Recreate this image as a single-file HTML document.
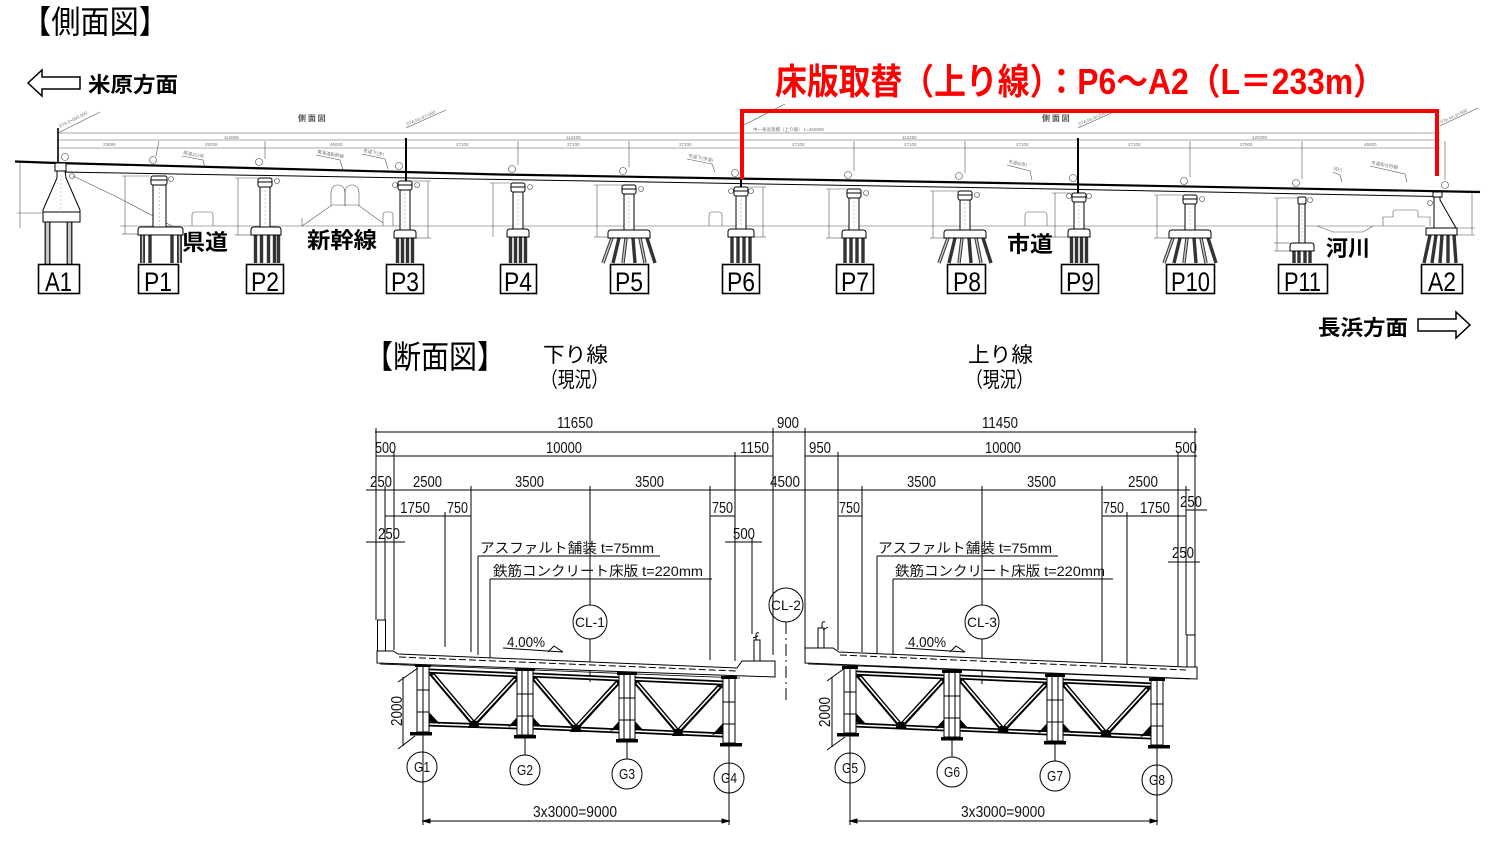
<!DOCTYPE html>
<html><head><meta charset="utf-8">
<style>
html,body{margin:0;padding:0;background:#fff;}
svg{display:block;}
text{font-family:"Liberation Sans","Noto Sans CJK JP",sans-serif;}
.j{font-family:"Noto Sans CJK JP",sans-serif;}
.d{font-size:16px;fill:#111;}
.tiny{font-size:4.5px;fill:#777;}
.k{stroke:#000;fill:none;stroke-width:1;}
.t{stroke:#555;fill:none;stroke-width:0.6;}
.w{fill:#fff;stroke:#000;stroke-width:1;}
.pile{stroke:#333;stroke-width:3.4;}
.pin{stroke:#c8c8c8;stroke-width:1.4;}
.cf{stroke:#000;stroke-width:5;fill:none;stroke-linecap:butt;}
.cfi{stroke:#fff;stroke-width:1.6;fill:none;}
</style></head><body>
<svg width="1500" height="843" viewBox="0 0 1500 843" xmlns="http://www.w3.org/2000/svg">
<rect width="1500" height="843" fill="#fff"/>

<!-- ===== Titles ===== -->
<text x="22" y="33" font-size="32" class="j" textLength="146" lengthAdjust="spacingAndGlyphs">【側面図】</text>
<polygon points="28,83 42,70 42,77 80,77 80,89 42,89 42,96" fill="#fff" stroke="#000" stroke-width="1.5"/>
<text x="88" y="92" font-size="21" font-weight="bold" class="j" textLength="90" lengthAdjust="spacingAndGlyphs">米原方面</text>
<text x="775" y="94" font-size="36" font-weight="bold" fill="#f00" textLength="610" lengthAdjust="spacingAndGlyphs">床版取替（上り線）：P6～A2（L＝233m）</text>

<!-- ===== Side view: top dimension lines ===== -->
<g class="t">
<line x1="57" y1="133" x2="1440" y2="133"/>
<line x1="57" y1="140" x2="1440" y2="140"/>
<line x1="57" y1="148" x2="1440" y2="148"/>
</g>
<text x="298" y="121" font-size="8" fill="#555" font-weight="bold" class="j">側 面 図</text>
<text x="1042" y="121" font-size="8" fill="#555" font-weight="bold" class="j">側 面 図</text>
<text x="753" y="131" class="tiny">中一条高架橋（上り線） L=460908</text>
<g class="tiny">
<text x="224" y="139">112858</text><text x="566" y="139">112408</text><text x="902" y="139">112250</text><text x="1252" y="139">120290</text>
<text x="103" y="146">23699</text><text x="205" y="146">25209</text><text x="330" y="146">46000</text><text x="456" y="146">27100</text>
<text x="567" y="146">27100</text><text x="679" y="146">27100</text><text x="792" y="146">27100</text><text x="904" y="146">27100</text>
<text x="1016" y="146">27100</text><text x="1128" y="146">27100</text><text x="1240" y="146">27900</text><text x="1364" y="146">45000</text>
</g>
<g class="t">
<line x1="58" y1="133" x2="100" y2="112"/><line x1="406" y1="128" x2="446" y2="110"/>
<line x1="1078" y1="128" x2="1118" y2="110"/><line x1="1440" y1="126" x2="1478" y2="108"/>
<line x1="742" y1="126" x2="785" y2="104"/>
</g>
<g class="tiny">
<text transform="translate(60,128) rotate(-27)">STA.0+000.000</text>
<text transform="translate(407,126) rotate(-24)">STA.No.97+000</text>
<text transform="translate(1079,126) rotate(-24)">STA.No.8+200</text>
<text transform="translate(1441,124) rotate(-25)">STA.No.9+500</text>
</g>

<g class="t">
<line x1="159" y1="141" x2="156" y2="156"/>
<line x1="265" y1="141" x2="265" y2="159"/>
<line x1="518" y1="141" x2="518" y2="165"/>
<line x1="629" y1="141" x2="629" y2="167"/>
<line x1="854" y1="141" x2="854" y2="171"/>
<line x1="965" y1="141" x2="965" y2="173"/>
<line x1="1190" y1="141" x2="1190" y2="177"/>
<line x1="1302" y1="141" x2="1302" y2="179"/>
<line x1="1445" y1="141" x2="1445" y2="180"/>
</g>
<line x1="58" y1="128" x2="58" y2="172" stroke="#000" stroke-width="1.6"/>
<line x1="406" y1="138" x2="406" y2="181" stroke="#000" stroke-width="2"/>
<line x1="1078" y1="138" x2="1078" y2="193" stroke="#000" stroke-width="2"/>
<line x1="741" y1="176" x2="741" y2="187" stroke="#000" stroke-width="2"/>

<g fill="#fff" stroke="#444" stroke-width="0.6">
<circle cx="65" cy="157" r="3.5"/>
<circle cx="153" cy="160" r="3.5"/><circle cx="259" cy="162" r="3.5"/><circle cx="399" cy="166" r="3.5"/>
<circle cx="512" cy="169" r="3.5"/><circle cx="623" cy="171" r="3.5"/><circle cx="735" cy="173" r="3.5"/>
<circle cx="848" cy="175" r="3.5"/><circle cx="959" cy="176" r="3.5"/><circle cx="1073" cy="178" r="3.5"/>
<circle cx="1184" cy="181" r="3.5"/><circle cx="1296" cy="183" r="3.5"/><circle cx="1445" cy="185" r="3.5"/>
<circle cx="171" cy="179" r="2.5"/><circle cx="277" cy="181" r="2.5"/><circle cx="395" cy="185" r="2.5"/><circle cx="417" cy="185" r="2.5"/>
<circle cx="530" cy="187" r="2.5"/><circle cx="641" cy="189" r="2.5"/><circle cx="731" cy="191" r="2.5"/><circle cx="751" cy="191" r="2.5"/>
<circle cx="866" cy="193" r="2.5"/><circle cx="977" cy="195" r="2.5"/><circle cx="1069" cy="196" r="2.5"/><circle cx="1089" cy="196" r="2.5"/>
<circle cx="1202" cy="199" r="2.5"/><circle cx="1310" cy="200" r="2.5"/><circle cx="1430" cy="203" r="2.5"/><circle cx="72" cy="176" r="2.5"/>
</g>

<g class="t">
<polyline points="182,156 203,160 205,168"/>
<polyline points="316,155 340,160 343,170"/>
<polyline points="362,154 385,159 388,169"/>
<polyline points="687,159 712,164 715,172"/>
<polyline points="1007,165 1030,171 1032,180"/>
<polyline points="1333,172 1340,175 1342,182"/>
<polyline points="1370,166 1405,174 1407,182"/>
</g>
<g class="tiny">
<text transform="translate(183,154) rotate(11)">県道312号</text>
<text transform="translate(317,153) rotate(11)">東海道新幹線</text>
<text transform="translate(363,152) rotate(11)">市道下(歩)</text>
<text transform="translate(688,157) rotate(11)">市道下(歩道)</text>
<text transform="translate(1008,163) rotate(11)">市道8(歩)</text>
<text transform="translate(1333,170) rotate(11)">河川</text>
<text transform="translate(1371,164) rotate(11)">市道和合町線</text>
</g>

<polyline points="15,161.5 57,163 500,174.5 1000,183 1480,192" fill="none" stroke="#000" stroke-width="2.2"/>
<polyline points="60,172 500,179.5 1000,188 1437,196.5" fill="none" stroke="#000" stroke-width="1"/>

<line x1="120" y1="226" x2="1425" y2="226" class="t"/>
<line x1="1456" y1="228" x2="1475" y2="228" class="t"/>
<polyline points="73,176 117,197 172,226" class="t" stroke-width="0.8"/>
<g class="t" stroke-width="0.8">
<path d="M192,226 V215 Q192,212 195,212 H210 Q213,212 213,215 V226"/>
<path d="M709,226 V215 Q709,212 712,212 H719 Q722,212 722,215 V226"/>
<path d="M1025,226 V215 Q1025,212 1028,212 H1044 Q1047,212 1047,215 V226"/>
<path d="M383,226 V215 Q383,212 386,212 H390 Q393,212 393,215 V226"/>
<polyline points="302,218 302,226 332,205 358,205 383,223"/>
<path d="M331,206 V194 Q331,185 338,185 Q345,185 345,194 V206"/>
<path d="M345,206 V194 Q345,185 352,185 Q359,185 359,194 V206"/>
<polyline points="1317,226 1333,232 1363,232 1373,226"/>
<path d="M1383,226 V217 H1393 V212 Q1393,210 1396,210 H1415 Q1418,210 1418,212 V217 H1430 V226"/>
</g>

<g class="t" stroke-width="0.5">
<line x1="20" y1="163" x2="20" y2="228"/><line x1="17" y1="213" x2="43" y2="213"/>
<line x1="125" y1="176" x2="125" y2="234"/><line x1="122" y1="176" x2="150" y2="176"/><line x1="122" y1="234" x2="138" y2="234"/>
<line x1="238" y1="178" x2="238" y2="235"/><line x1="235" y1="178" x2="258" y2="178"/><line x1="235" y1="235" x2="251" y2="235"/>
<line x1="428" y1="181" x2="428" y2="238"/><line x1="412" y1="181" x2="431" y2="181"/><line x1="416" y1="238" x2="431" y2="238"/>
<line x1="493" y1="183" x2="493" y2="237"/><line x1="490" y1="183" x2="511" y2="183"/>
<line x1="597" y1="185" x2="597" y2="237"/><line x1="594" y1="185" x2="622" y2="185"/><line x1="594" y1="237" x2="608" y2="237"/>
<line x1="763" y1="187" x2="763" y2="237"/><line x1="748" y1="187" x2="766" y2="187"/><line x1="754" y1="237" x2="766" y2="237"/>
<line x1="829" y1="189" x2="829" y2="238"/><line x1="826" y1="189" x2="847" y2="189"/><line x1="826" y1="238" x2="842" y2="238"/>
<line x1="933" y1="191" x2="933" y2="238"/><line x1="930" y1="191" x2="958" y2="191"/><line x1="930" y1="238" x2="944" y2="238"/>
<line x1="1055" y1="193" x2="1055" y2="237"/><line x1="1052" y1="193" x2="1072" y2="193"/><line x1="1052" y1="237" x2="1068" y2="237"/>
<line x1="1157" y1="195" x2="1157" y2="238"/><line x1="1154" y1="195" x2="1183" y2="195"/><line x1="1154" y1="238" x2="1169" y2="238"/>
<line x1="1277" y1="198" x2="1277" y2="251"/><line x1="1274" y1="198" x2="1298" y2="198"/><line x1="1274" y1="243" x2="1290" y2="243"/><line x1="1274" y1="251" x2="1290" y2="251"/>
<line x1="1472" y1="193" x2="1472" y2="235"/><line x1="1457" y1="235" x2="1475" y2="235"/>
</g>

<g class="pile">
<line x1="47.5" y1="222" x2="47.5" y2="264" stroke-width="6"/><line x1="69.5" y1="222" x2="69.5" y2="264" stroke-width="6"/>
<line x1="142.5" y1="235" x2="142.5" y2="263" stroke-width="5"/><line x1="150" y1="235" x2="150" y2="263"/><line x1="172" y1="235" x2="172" y2="263"/><line x1="179.5" y1="235" x2="179.5" y2="263" stroke-width="5"/>
<line x1="255.5" y1="235" x2="255.5" y2="263"/><line x1="261.5" y1="235" x2="261.5" y2="263"/><line x1="268.5" y1="235" x2="268.5" y2="263"/><line x1="274.5" y1="235" x2="274.5" y2="263"/><line x1="278.5" y1="235" x2="278.5" y2="263"/>
<line x1="397.5" y1="238" x2="397.5" y2="263"/><line x1="402.5" y1="238" x2="402.5" y2="263"/><line x1="407.5" y1="238" x2="407.5" y2="263"/><line x1="412.5" y1="238" x2="412.5" y2="263"/>
<line x1="510.5" y1="237" x2="510.5" y2="263"/><line x1="515.5" y1="237" x2="515.5" y2="263"/><line x1="520.5" y1="237" x2="520.5" y2="263"/><line x1="525.5" y1="237" x2="525.5" y2="263"/>
<line x1="612" y1="238" x2="603" y2="263"/><line x1="619" y1="238" x2="613" y2="263"/><line x1="626" y1="238" x2="623" y2="263"/><line x1="633" y1="238" x2="635" y2="263"/><line x1="640" y1="238" x2="645" y2="263"/><line x1="647" y1="238" x2="655" y2="263"/>
<line x1="732" y1="237" x2="732" y2="263"/><line x1="738" y1="237" x2="738" y2="263"/><line x1="744" y1="237" x2="744" y2="263"/><line x1="750" y1="237" x2="750" y2="263"/>
<line x1="845" y1="238" x2="845" y2="263"/><line x1="851" y1="238" x2="851" y2="263"/><line x1="857" y1="238" x2="857" y2="263"/><line x1="863" y1="238" x2="863" y2="263"/>
<line x1="948" y1="238" x2="939" y2="263"/><line x1="955" y1="238" x2="949" y2="263"/><line x1="962" y1="238" x2="959" y2="263"/><line x1="969" y1="238" x2="971" y2="263"/><line x1="976" y1="238" x2="981" y2="263"/><line x1="983" y1="238" x2="991" y2="263"/>
<line x1="1071.5" y1="237" x2="1071.5" y2="263"/><line x1="1076.5" y1="237" x2="1076.5" y2="263"/><line x1="1081.5" y1="237" x2="1081.5" y2="263"/><line x1="1086.5" y1="237" x2="1086.5" y2="263"/>
<line x1="1173" y1="238" x2="1164" y2="263"/><line x1="1180" y1="238" x2="1174" y2="263"/><line x1="1187" y1="238" x2="1184" y2="263"/><line x1="1194" y1="238" x2="1196" y2="263"/><line x1="1201" y1="238" x2="1206" y2="263"/><line x1="1208" y1="238" x2="1216" y2="263"/>
<line x1="1294" y1="251" x2="1294" y2="263"/><line x1="1299" y1="251" x2="1299" y2="263"/><line x1="1305" y1="251" x2="1305" y2="263"/><line x1="1310" y1="251" x2="1310" y2="263"/>
<line x1="1430" y1="235" x2="1424" y2="263"/><line x1="1436" y1="235" x2="1432" y2="263"/><line x1="1442" y1="235" x2="1440" y2="263"/><line x1="1448" y1="235" x2="1448" y2="263"/><line x1="1454" y1="235" x2="1456" y2="263"/>
</g>
<g class="pin">
<line x1="47.5" y1="222" x2="47.5" y2="264" stroke-width="3"/><line x1="69.5" y1="222" x2="69.5" y2="264" stroke-width="3"/>
<line x1="612" y1="238" x2="603" y2="263"/><line x1="626" y1="238" x2="623" y2="263"/><line x1="640" y1="238" x2="645" y2="263"/>
<line x1="948" y1="238" x2="939" y2="263"/><line x1="962" y1="238" x2="959" y2="263"/><line x1="976" y1="238" x2="981" y2="263"/>
<line x1="1173" y1="238" x2="1164" y2="263"/><line x1="1187" y1="238" x2="1184" y2="263"/><line x1="1201" y1="238" x2="1206" y2="263"/>
<line x1="142.5" y1="235" x2="142.5" y2="263"/><line x1="179.5" y1="235" x2="179.5" y2="263"/>
</g>

<rect x="55" y="163" width="11" height="8" class="w"/>
<polygon points="57,171 65,171 66,178 80,210 80,212 43,212 43,210 57,178" class="w"/>
<rect x="43" y="212" width="37" height="10" class="w"/>
<line x1="61" y1="175" x2="61" y2="212" stroke="#999" stroke-width="0.5" stroke-dasharray="2,2"/>

<g>
<rect x="151" y="176" width="16" height="9" rx="2" class="w"/><line x1="151" y1="180" x2="167" y2="180" class="k" stroke-width="0.6"/>
<rect x="153" y="185" width="13" height="42" class="w"/>
<path d="M138,235 V230 Q138,227 141,227 H180 Q183,227 183,230 V235 Z" class="w" stroke-width="1.3"/>
<rect x="258" y="178" width="14" height="9" rx="2" class="w"/><line x1="258" y1="182" x2="272" y2="182" class="k" stroke-width="0.6"/>
<rect x="260" y="187" width="10" height="40" class="w"/>
<path d="M251,235 V230 Q251,227 254,227 H278 Q281,227 281,230 V235 Z" class="w" stroke-width="1.3"/>
<rect x="398" y="181" width="14" height="9" rx="2" class="w"/><line x1="398" y1="185" x2="412" y2="185" class="k" stroke-width="0.6"/>
<rect x="400" y="190" width="10" height="40" class="w"/>
<path d="M394,238 V233 Q394,230 397,230 H413 Q416,230 416,233 V238 Z" class="w" stroke-width="1.3"/>
<rect x="511" y="183" width="14" height="9" rx="2" class="w"/><line x1="511" y1="187" x2="525" y2="187" class="k" stroke-width="0.6"/>
<rect x="513" y="192" width="10" height="37" class="w"/>
<path d="M507,237 V232 Q507,229 510,229 H526 Q529,229 529,232 V237 Z" class="w" stroke-width="1.3"/>
<rect x="622" y="185" width="14" height="9" rx="2" class="w"/><line x1="622" y1="189" x2="636" y2="189" class="k" stroke-width="0.6"/>
<rect x="624" y="194" width="10" height="36" class="w"/>
<path d="M608,238 V233 Q608,230 611,230 H647 Q650,230 650,233 V238 Z" class="w" stroke-width="1.3"/>
<rect x="734" y="187" width="14" height="9" rx="2" class="w"/><line x1="734" y1="191" x2="748" y2="191" class="k" stroke-width="0.6"/>
<rect x="736" y="196" width="10" height="33" class="w"/>
<path d="M728,237 V232 Q728,229 731,229 H751 Q754,229 754,232 V237 Z" class="w" stroke-width="1.3"/>
<rect x="847" y="189" width="14" height="9" rx="2" class="w"/><line x1="847" y1="193" x2="861" y2="193" class="k" stroke-width="0.6"/>
<rect x="849" y="198" width="10" height="32" class="w"/>
<path d="M842,238 V233 Q842,230 845,230 H863 Q866,230 866,233 V238 Z" class="w" stroke-width="1.3"/>
<rect x="958" y="191" width="14" height="9" rx="2" class="w"/><line x1="958" y1="195" x2="972" y2="195" class="k" stroke-width="0.6"/>
<rect x="960" y="200" width="10" height="30" class="w"/>
<path d="M944,238 V233 Q944,230 947,230 H983 Q986,230 986,233 V238 Z" class="w" stroke-width="1.3"/>
<rect x="1072" y="193" width="14" height="9" rx="2" class="w"/><line x1="1072" y1="197" x2="1086" y2="197" class="k" stroke-width="0.6"/>
<rect x="1074" y="202" width="10" height="27" class="w"/>
<path d="M1068,237 V232 Q1068,229 1071,229 H1087 Q1090,229 1090,232 V237 Z" class="w" stroke-width="1.3"/>
<rect x="1183" y="195" width="14" height="9" rx="2" class="w"/><line x1="1183" y1="199" x2="1197" y2="199" class="k" stroke-width="0.6"/>
<rect x="1185" y="204" width="10" height="26" class="w"/>
<path d="M1169,238 V233 Q1169,230 1172,230 H1208 Q1211,230 1211,233 V238 Z" class="w" stroke-width="1.3"/>
<rect x="1298" y="197" width="8" height="7" rx="1.5" class="w"/>
<rect x="1299" y="204" width="6" height="39" class="w"/>
<path d="M1290,251 V246 Q1290,243 1293,243 H1311 Q1314,243 1314,246 V251 Z" class="w" stroke-width="1.3"/>
</g>
<g stroke="#999" stroke-width="0.5" stroke-dasharray="2,2">
<line x1="159.5" y1="188" x2="159.5" y2="225"/><line x1="265" y1="190" x2="265" y2="225"/><line x1="405" y1="193" x2="405" y2="228"/>
<line x1="518" y1="195" x2="518" y2="227"/><line x1="629" y1="197" x2="629" y2="228"/><line x1="741" y1="199" x2="741" y2="227"/>
<line x1="854" y1="201" x2="854" y2="228"/><line x1="965" y1="203" x2="965" y2="228"/><line x1="1079" y1="205" x2="1079" y2="227"/>
<line x1="1190" y1="207" x2="1190" y2="228"/><line x1="1302" y1="207" x2="1302" y2="241"/>
</g>

<rect x="1433" y="192" width="9" height="5" class="w"/>
<polygon points="1434,197 1440,197 1440,200 1456,228 1434,228" class="w"/>
<rect x="1426" y="228" width="31" height="7" class="w" stroke-width="1.3"/>

<path d="M742,179 V111 H1437 V176" fill="none" stroke="#f00" stroke-width="4"/>

<g font-weight="bold" font-size="22" class="j">
<text x="182" y="250" textLength="46" lengthAdjust="spacingAndGlyphs">県道</text>
<text x="307" y="248" textLength="70" lengthAdjust="spacingAndGlyphs">新幹線</text>
<text x="1007" y="252" textLength="46" lengthAdjust="spacingAndGlyphs">市道</text>
<text x="1326" y="256" textLength="44" lengthAdjust="spacingAndGlyphs">河川</text>
</g>

<g fill="#fff" stroke="#000" stroke-width="1.6">
<rect x="38.5" y="264.5" width="41" height="29"/><rect x="138.5" y="264.5" width="40" height="29"/>
<rect x="246.5" y="264.5" width="37" height="29"/><rect x="386.5" y="264.5" width="37" height="29"/>
<rect x="500.5" y="264.5" width="36" height="29"/><rect x="610.5" y="264.5" width="38" height="29"/>
<rect x="722.5" y="264.5" width="37" height="29"/><rect x="836.5" y="264.5" width="37" height="29"/>
<rect x="947.5" y="264.5" width="38" height="29"/><rect x="1061.5" y="264.5" width="37" height="29"/>
<rect x="1166.5" y="264.5" width="48" height="29"/><rect x="1278.5" y="264.5" width="49" height="29"/>
<rect x="1421.5" y="264.5" width="41" height="29"/>
</g>
<g font-size="27">
<text x="45" y="291" textLength="27" lengthAdjust="spacingAndGlyphs">A1</text>
<text x="144" y="291" textLength="28" lengthAdjust="spacingAndGlyphs">P1</text>
<text x="251" y="291" textLength="28" lengthAdjust="spacingAndGlyphs">P2</text>
<text x="391" y="291" textLength="28" lengthAdjust="spacingAndGlyphs">P3</text>
<text x="504" y="291" textLength="28" lengthAdjust="spacingAndGlyphs">P4</text>
<text x="615" y="291" textLength="28" lengthAdjust="spacingAndGlyphs">P5</text>
<text x="727" y="291" textLength="28" lengthAdjust="spacingAndGlyphs">P6</text>
<text x="841" y="291" textLength="28" lengthAdjust="spacingAndGlyphs">P7</text>
<text x="953" y="291" textLength="28" lengthAdjust="spacingAndGlyphs">P8</text>
<text x="1066" y="291" textLength="28" lengthAdjust="spacingAndGlyphs">P9</text>
<text x="1171" y="291" textLength="39" lengthAdjust="spacingAndGlyphs">P10</text>
<text x="1284" y="291" textLength="37" lengthAdjust="spacingAndGlyphs">P11</text>
<text x="1428" y="291" textLength="28" lengthAdjust="spacingAndGlyphs">A2</text>
</g>

<text x="1318" y="335" font-size="21" font-weight="bold" class="j" textLength="90" lengthAdjust="spacingAndGlyphs">長浜方面</text>
<polygon points="1418,319 1456,319 1456,312 1470,325 1456,338 1456,331 1418,331" fill="#fff" stroke="#000" stroke-width="1.5"/>

<!-- ===== Cross sections ===== -->
<text x="365" y="368" font-size="32" class="j" textLength="140" lengthAdjust="spacingAndGlyphs">【断面図】</text>
<g font-size="21" class="j">
<text x="543" y="362" textLength="65" lengthAdjust="spacingAndGlyphs">下り線</text>
<text x="541" y="387" textLength="67" lengthAdjust="spacingAndGlyphs">（現況）</text>
<text x="968" y="362" textLength="65" lengthAdjust="spacingAndGlyphs">上り線</text>
<text x="966" y="387" textLength="67" lengthAdjust="spacingAndGlyphs">（現況）</text>
</g>

<g class="k">
<line x1="375" y1="432" x2="1197" y2="432"/>
<line x1="376" y1="456" x2="773" y2="456"/><line x1="805" y1="456" x2="1197" y2="456"/>
<line x1="366" y1="490" x2="1190" y2="490"/>
<line x1="385" y1="516" x2="471" y2="516"/><line x1="710" y1="516" x2="735" y2="516"/>
<line x1="838" y1="516" x2="862" y2="516"/><line x1="1102" y1="516" x2="1186" y2="516"/>
<line x1="1186" y1="510" x2="1207" y2="510"/>
<line x1="366" y1="542" x2="405" y2="542"/><line x1="725" y1="542" x2="762" y2="542"/>
<line x1="1168" y1="562" x2="1200" y2="562"/>
</g>
<g class="k" stroke-width="1">
<path d="M773,428V436M805,428V436M1195,428V436M376,428V436"/>
<path d="M376,452V460M394,452V460M735,452V460M773,452V460M805,452V460M838,452V460M1178,452V460M1195,452V460"/>
<path d="M376,486V494M385,486V494M471,486V494M590,486V494M710,486V494M862,486V494M982,486V494M1102,486V494M1186,486V494"/>
<path d="M445,512V520M1127,512V520"/>
<path d="M376,538V546M385,538V546M735,538V546M752,538V546M1178,558V566M1186,558V566M1195,506V514"/>
</g>
<g class="k">
<line x1="376" y1="428" x2="376" y2="620"/>
<line x1="385" y1="486" x2="385" y2="620"/>
<line x1="394" y1="452" x2="394" y2="650"/>
<line x1="445" y1="512" x2="445" y2="647"/>
<line x1="471" y1="486" x2="471" y2="652"/>
<line x1="478" y1="556" x2="478" y2="655"/>
<line x1="490" y1="579" x2="490" y2="659"/>
<line x1="590" y1="486" x2="590" y2="605"/>
<line x1="590" y1="639" x2="590" y2="682"/>
<line x1="710" y1="486" x2="710" y2="660"/>
<line x1="735" y1="452" x2="735" y2="661"/>
<line x1="752" y1="538" x2="752" y2="634"/>
<line x1="773" y1="428" x2="773" y2="655"/>
<line x1="478" y1="556" x2="660" y2="556"/>
<line x1="490" y1="579" x2="712" y2="579"/>
</g>
<g class="k">
<line x1="805" y1="428" x2="805" y2="648"/>
<line x1="838" y1="452" x2="838" y2="650"/>
<line x1="862" y1="486" x2="862" y2="652"/>
<line x1="877" y1="556" x2="877" y2="655"/>
<line x1="893" y1="579" x2="893" y2="658"/>
<line x1="982" y1="486" x2="982" y2="605"/>
<line x1="982" y1="639" x2="982" y2="684"/>
<line x1="1102" y1="486" x2="1102" y2="662"/>
<line x1="1127" y1="512" x2="1127" y2="664"/>
<line x1="1178" y1="452" x2="1178" y2="666"/>
<line x1="1186" y1="486" x2="1186" y2="635"/>
<line x1="1195" y1="428" x2="1195" y2="635"/>
<line x1="877" y1="556" x2="1058" y2="556"/>
<line x1="893" y1="579" x2="1113" y2="579"/>
</g>
<line x1="786" y1="622" x2="786" y2="702" stroke="#000" stroke-width="1" stroke-dasharray="12,4,2,4"/>

<g class="d">
<text x="557" y="428" textLength="36" lengthAdjust="spacingAndGlyphs">11650</text>
<text x="777" y="428" textLength="22" lengthAdjust="spacingAndGlyphs">900</text>
<text x="982" y="428" textLength="36" lengthAdjust="spacingAndGlyphs">11450</text>
<text x="375" y="453" textLength="21" lengthAdjust="spacingAndGlyphs">500</text>
<text x="546" y="453" textLength="36" lengthAdjust="spacingAndGlyphs">10000</text>
<text x="740" y="453" textLength="29" lengthAdjust="spacingAndGlyphs">1150</text>
<text x="809" y="453" textLength="22" lengthAdjust="spacingAndGlyphs">950</text>
<text x="985" y="453" textLength="36" lengthAdjust="spacingAndGlyphs">10000</text>
<text x="1175" y="453" textLength="22" lengthAdjust="spacingAndGlyphs">500</text>
<text x="370" y="487" textLength="22" lengthAdjust="spacingAndGlyphs">250</text>
<text x="413" y="487" textLength="29" lengthAdjust="spacingAndGlyphs">2500</text>
<text x="515" y="487" textLength="29" lengthAdjust="spacingAndGlyphs">3500</text>
<text x="635" y="487" textLength="29" lengthAdjust="spacingAndGlyphs">3500</text>
<text x="770" y="487" textLength="30" lengthAdjust="spacingAndGlyphs">4500</text>
<text x="907" y="487" textLength="29" lengthAdjust="spacingAndGlyphs">3500</text>
<text x="1027" y="487" textLength="29" lengthAdjust="spacingAndGlyphs">3500</text>
<text x="1128" y="487" textLength="30" lengthAdjust="spacingAndGlyphs">2500</text>
<text x="400" y="513" textLength="30" lengthAdjust="spacingAndGlyphs">1750</text>
<text x="447" y="513" textLength="21" lengthAdjust="spacingAndGlyphs">750</text>
<text x="712" y="513" textLength="21" lengthAdjust="spacingAndGlyphs">750</text>
<text x="839" y="513" textLength="21" lengthAdjust="spacingAndGlyphs">750</text>
<text x="1103" y="513" textLength="21" lengthAdjust="spacingAndGlyphs">750</text>
<text x="1140" y="513" textLength="30" lengthAdjust="spacingAndGlyphs">1750</text>
<text x="1180" y="507" textLength="22" lengthAdjust="spacingAndGlyphs">250</text>
<text x="378" y="539" textLength="22" lengthAdjust="spacingAndGlyphs">250</text>
<text x="733" y="539" textLength="22" lengthAdjust="spacingAndGlyphs">500</text>
<text x="1172" y="558" textLength="22" lengthAdjust="spacingAndGlyphs">250</text>
</g>
<g font-size="14" fill="#111" class="j">
<text x="480" y="553" textLength="174" lengthAdjust="spacingAndGlyphs">アスファルト舗装 t=75mm</text>
<text x="493" y="576" textLength="210" lengthAdjust="spacingAndGlyphs">鉄筋コンクリート床版 t=220mm</text>
<text x="878" y="553" textLength="174" lengthAdjust="spacingAndGlyphs">アスファルト舗装 t=75mm</text>
<text x="895" y="576" textLength="210" lengthAdjust="spacingAndGlyphs">鉄筋コンクリート床版 t=220mm</text>
</g>

<g fill="#fff" stroke="#000" stroke-width="1">
<circle cx="590" cy="622" r="17"/><circle cx="982" cy="622" r="17"/>
</g>
<circle cx="786" cy="605" r="17" fill="none" stroke="#000" stroke-width="1"/>
<g font-size="14" fill="#111">
<text x="575" y="627" textLength="30" lengthAdjust="spacingAndGlyphs">CL-1</text>
<text x="771" y="610" textLength="30" lengthAdjust="spacingAndGlyphs">CL-2</text>
<text x="967" y="627" textLength="30" lengthAdjust="spacingAndGlyphs">CL-3</text>
</g>

<!-- cross frames -->
<g class="cf">
<line x1="429" y1="671" x2="519" y2="675"/><line x1="429" y1="724" x2="519" y2="727"/>
<line x1="431" y1="673" x2="474" y2="724"/><line x1="517" y1="677" x2="474" y2="724"/>
<line x1="531" y1="675" x2="621" y2="679"/><line x1="531" y1="727" x2="621" y2="731"/>
<line x1="533" y1="677" x2="576" y2="728"/><line x1="619" y1="681" x2="576" y2="728"/>
<line x1="633" y1="679" x2="723" y2="683"/><line x1="633" y1="731" x2="723" y2="735"/>
<line x1="635" y1="681" x2="678" y2="732"/><line x1="721" y1="685" x2="678" y2="732"/>
<line x1="856" y1="673" x2="946" y2="677"/><line x1="856" y1="725" x2="946" y2="729"/>
<line x1="858" y1="675" x2="901" y2="726"/><line x1="944" y1="679" x2="901" y2="726"/>
<line x1="958" y1="677" x2="1049" y2="681"/><line x1="958" y1="729" x2="1049" y2="733"/>
<line x1="960" y1="679" x2="1003" y2="730"/><line x1="1047" y1="683" x2="1003" y2="730"/>
<line x1="1061" y1="681" x2="1151" y2="685"/><line x1="1061" y1="733" x2="1151" y2="737"/>
<line x1="1063" y1="683" x2="1106" y2="734"/><line x1="1149" y1="687" x2="1106" y2="734"/>
</g>
<g class="cfi">
<line x1="429" y1="671" x2="519" y2="675"/><line x1="429" y1="724" x2="519" y2="727"/>
<line x1="433" y1="675" x2="472" y2="721"/><line x1="515" y1="679" x2="476" y2="721"/>
<line x1="531" y1="675" x2="621" y2="679"/><line x1="531" y1="727" x2="621" y2="731"/>
<line x1="535" y1="679" x2="574" y2="725"/><line x1="617" y1="683" x2="578" y2="725"/>
<line x1="633" y1="679" x2="723" y2="683"/><line x1="633" y1="731" x2="723" y2="735"/>
<line x1="637" y1="683" x2="676" y2="729"/><line x1="719" y1="687" x2="680" y2="729"/>
<line x1="856" y1="673" x2="946" y2="677"/><line x1="856" y1="725" x2="946" y2="729"/>
<line x1="860" y1="677" x2="899" y2="723"/><line x1="942" y1="681" x2="903" y2="723"/>
<line x1="958" y1="677" x2="1049" y2="681"/><line x1="958" y1="729" x2="1049" y2="733"/>
<line x1="962" y1="681" x2="1001" y2="727"/><line x1="1045" y1="685" x2="1005" y2="727"/>
<line x1="1061" y1="681" x2="1151" y2="685"/><line x1="1061" y1="733" x2="1151" y2="737"/>
<line x1="1065" y1="685" x2="1104" y2="731"/><line x1="1147" y1="689" x2="1108" y2="731"/>
</g>
<g fill="#000">
<polygon points="468,728 480,728 477,721 471,721"/><polygon points="570,732 582,732 579,725 573,725"/><polygon points="672,736 684,736 681,729 675,729"/>
<polygon points="895,729 907,729 904,722 898,722"/><polygon points="997,733 1009,733 1006,726 1000,726"/><polygon points="1100,737 1112,737 1109,730 1103,730"/>
<polygon points="429,721 440,724 429,712"/><polygon points="519,724 508,727 519,715"/><polygon points="531,724 542,727 531,715"/><polygon points="621,728 610,731 621,719"/>
<polygon points="633,728 644,731 633,719"/><polygon points="723,732 712,735 723,723"/>
<polygon points="856,722 867,725 856,713"/><polygon points="946,726 935,729 946,717"/><polygon points="958,726 969,729 958,717"/><polygon points="1049,730 1038,733 1049,721"/>
<polygon points="1061,730 1072,733 1061,721"/><polygon points="1151,734 1140,737 1151,725"/>
</g>

<!-- girders -->
<g>
<rect x="417" y="665" width="12" height="67" class="w" stroke-width="1.5"/>
<line x1="423" y1="665" x2="423" y2="732" class="k" stroke-width="1"/>
<path d="M417,690H429M417,712H429" class="k" stroke-width="0.8"/>
<rect x="410" y="732" width="22" height="3.5" fill="#000"/><rect x="415" y="664" width="16" height="3" fill="#000"/>

<rect x="517" y="669" width="16" height="66" class="w" stroke-width="1.5"/>
<line x1="522" y1="669" x2="522" y2="735" class="k" stroke-width="1"/><line x1="528" y1="669" x2="528" y2="735" class="k" stroke-width="1"/>
<path d="M517,694H533M517,716H533" class="k" stroke-width="0.8"/>
<rect x="514" y="735" width="22" height="3.5" fill="#000"/><rect x="515" y="668" width="20" height="3" fill="#000"/>

<rect x="619" y="673" width="16" height="66" class="w" stroke-width="1.5"/>
<line x1="624" y1="673" x2="624" y2="739" class="k" stroke-width="1"/><line x1="630" y1="673" x2="630" y2="739" class="k" stroke-width="1"/>
<path d="M619,698H635M619,720H635" class="k" stroke-width="0.8"/>
<rect x="616" y="739" width="22" height="3.5" fill="#000"/><rect x="617" y="672" width="20" height="3" fill="#000"/>

<rect x="723" y="677" width="12" height="66" class="w" stroke-width="1.5"/>
<line x1="729" y1="677" x2="729" y2="743" class="k" stroke-width="1"/>
<path d="M723,702H735M723,724H735" class="k" stroke-width="0.8"/>
<rect x="720" y="743" width="22" height="3.5" fill="#000"/><rect x="721" y="676" width="16" height="3" fill="#000"/>

<rect x="844" y="667" width="12" height="66" class="w" stroke-width="1.5"/>
<line x1="850" y1="667" x2="850" y2="733" class="k" stroke-width="1"/>
<path d="M844,692H856M844,714H856" class="k" stroke-width="0.8"/>
<rect x="837" y="733" width="22" height="3.5" fill="#000"/><rect x="842" y="666" width="16" height="3" fill="#000"/>

<rect x="944" y="671" width="16" height="66" class="w" stroke-width="1.5"/>
<line x1="949" y1="671" x2="949" y2="737" class="k" stroke-width="1"/><line x1="955" y1="671" x2="955" y2="737" class="k" stroke-width="1"/>
<path d="M944,696H960M944,718H960" class="k" stroke-width="0.8"/>
<rect x="941" y="737" width="22" height="3.5" fill="#000"/><rect x="942" y="670" width="20" height="3" fill="#000"/>

<rect x="1047" y="675" width="16" height="66" class="w" stroke-width="1.5"/>
<line x1="1052" y1="675" x2="1052" y2="741" class="k" stroke-width="1"/><line x1="1058" y1="675" x2="1058" y2="741" class="k" stroke-width="1"/>
<path d="M1047,700H1063M1047,722H1063" class="k" stroke-width="0.8"/>
<rect x="1044" y="741" width="22" height="3.5" fill="#000"/><rect x="1045" y="674" width="20" height="3" fill="#000"/>

<rect x="1151" y="679" width="12" height="66" class="w" stroke-width="1.5"/>
<line x1="1157" y1="679" x2="1157" y2="745" class="k" stroke-width="1"/>
<path d="M1151,704H1163M1151,726H1163" class="k" stroke-width="0.8"/>
<rect x="1148" y="745" width="22" height="3.5" fill="#000"/><rect x="1149" y="678" width="16" height="3" fill="#000"/>
</g>

<!-- slabs -->
<path d="M377,651 L393,651 L398,654 L737,668 L742,661 L775,661 L775,677 L377,663 Z" class="w" stroke-width="1.6"/>
<line x1="399" y1="657" x2="737" y2="671" stroke="#000" stroke-width="1" stroke-dasharray="7,3"/>
<path d="M380,664 L740,678" stroke="#000" stroke-width="0.8" fill="none"/>
<rect x="377.5" y="620" width="8" height="31" class="w" stroke-width="1.5"/>
<rect x="754" y="640" width="6" height="21" class="w" stroke-width="1.3"/>
<path d="M756,640 V635 Q756,632 759,633 M753,638 L758,636" class="k" stroke-width="1.2"/>

<path d="M805,648 L833,648 L839,652 L1186,667 L1197,667 L1197,679 L805,663 Z" class="w" stroke-width="1.6"/>
<line x1="840" y1="655" x2="1186" y2="670" stroke="#000" stroke-width="1" stroke-dasharray="7,3"/>
<path d="M808,664 L1190,679" stroke="#000" stroke-width="0.8" fill="none"/>
<rect x="1187" y="635" width="8" height="32" class="w" stroke-width="1.5"/>
<rect x="818" y="628" width="6" height="20" class="w" stroke-width="1.3"/>
<path d="M822,628 V624 Q822,621 825,622 M823,630 L828,627" class="k" stroke-width="1.2"/>

<g font-size="15" fill="#111">
<text x="507" y="647" textLength="38" lengthAdjust="spacingAndGlyphs">4.00%</text>
<text x="908" y="647" textLength="38" lengthAdjust="spacingAndGlyphs">4.00%</text>
</g>
<path d="M503,648 L563,652 M548,652 L554,646 L563,652" class="k"/>
<path d="M905,648 L965,652 M950,652 L956,646 L965,652" class="k"/>

<g class="k">
<line x1="403" y1="677" x2="403" y2="746"/>
<line x1="398" y1="682" x2="418" y2="668"/><line x1="398" y1="749" x2="415" y2="736"/>
<line x1="832" y1="677" x2="832" y2="747"/>
<line x1="827" y1="681" x2="845" y2="668"/><line x1="827" y1="750" x2="845" y2="737"/>
</g>
<g font-size="16" fill="#111">
<text transform="translate(402,726) rotate(-90)" textLength="30" lengthAdjust="spacingAndGlyphs">2000</text>
<text transform="translate(830,727) rotate(-90)" textLength="30" lengthAdjust="spacingAndGlyphs">2000</text>
</g>

<g class="k">
<line x1="423" y1="735" x2="423" y2="825"/><line x1="525" y1="738" x2="525" y2="755"/>
<line x1="627" y1="742" x2="627" y2="759"/><line x1="729" y1="746" x2="729" y2="825"/>
<line x1="850" y1="736" x2="850" y2="825"/><line x1="952" y1="740" x2="952" y2="757"/>
<line x1="1055" y1="744" x2="1055" y2="761"/><line x1="1157" y1="748" x2="1157" y2="825"/>
<line x1="423" y1="821" x2="729" y2="821"/><line x1="850" y1="821" x2="1157" y2="821"/>
<path d="M423,821 l7,-2 v4 z M729,821 l-7,-2 v4 z M850,821 l7,-2 v4 z M1157,821 l-7,-2 v4 z" fill="#000"/>
</g>
<g fill="none" stroke="#000" stroke-width="1">
<circle cx="422" cy="767" r="15"/><circle cx="525" cy="770" r="15"/><circle cx="627" cy="774" r="15"/><circle cx="729" cy="778" r="15"/>
<circle cx="850" cy="768" r="15"/><circle cx="952" cy="772" r="15"/><circle cx="1055" cy="776" r="15"/><circle cx="1157" cy="780" r="15"/>
</g>
<g font-size="15" fill="#111">
<text x="414" y="772" textLength="16" lengthAdjust="spacingAndGlyphs">G1</text>
<text x="517" y="775" textLength="16" lengthAdjust="spacingAndGlyphs">G2</text>
<text x="619" y="779" textLength="16" lengthAdjust="spacingAndGlyphs">G3</text>
<text x="721" y="783" textLength="16" lengthAdjust="spacingAndGlyphs">G4</text>
<text x="842" y="773" textLength="16" lengthAdjust="spacingAndGlyphs">G5</text>
<text x="944" y="777" textLength="16" lengthAdjust="spacingAndGlyphs">G6</text>
<text x="1047" y="781" textLength="16" lengthAdjust="spacingAndGlyphs">G7</text>
<text x="1149" y="785" textLength="16" lengthAdjust="spacingAndGlyphs">G8</text>
</g>
<g font-size="16" fill="#111">
<text x="533" y="817" textLength="84" lengthAdjust="spacingAndGlyphs">3x3000=9000</text>
<text x="961" y="817" textLength="84" lengthAdjust="spacingAndGlyphs">3x3000=9000</text>
</g>
</svg>
</body></html>
